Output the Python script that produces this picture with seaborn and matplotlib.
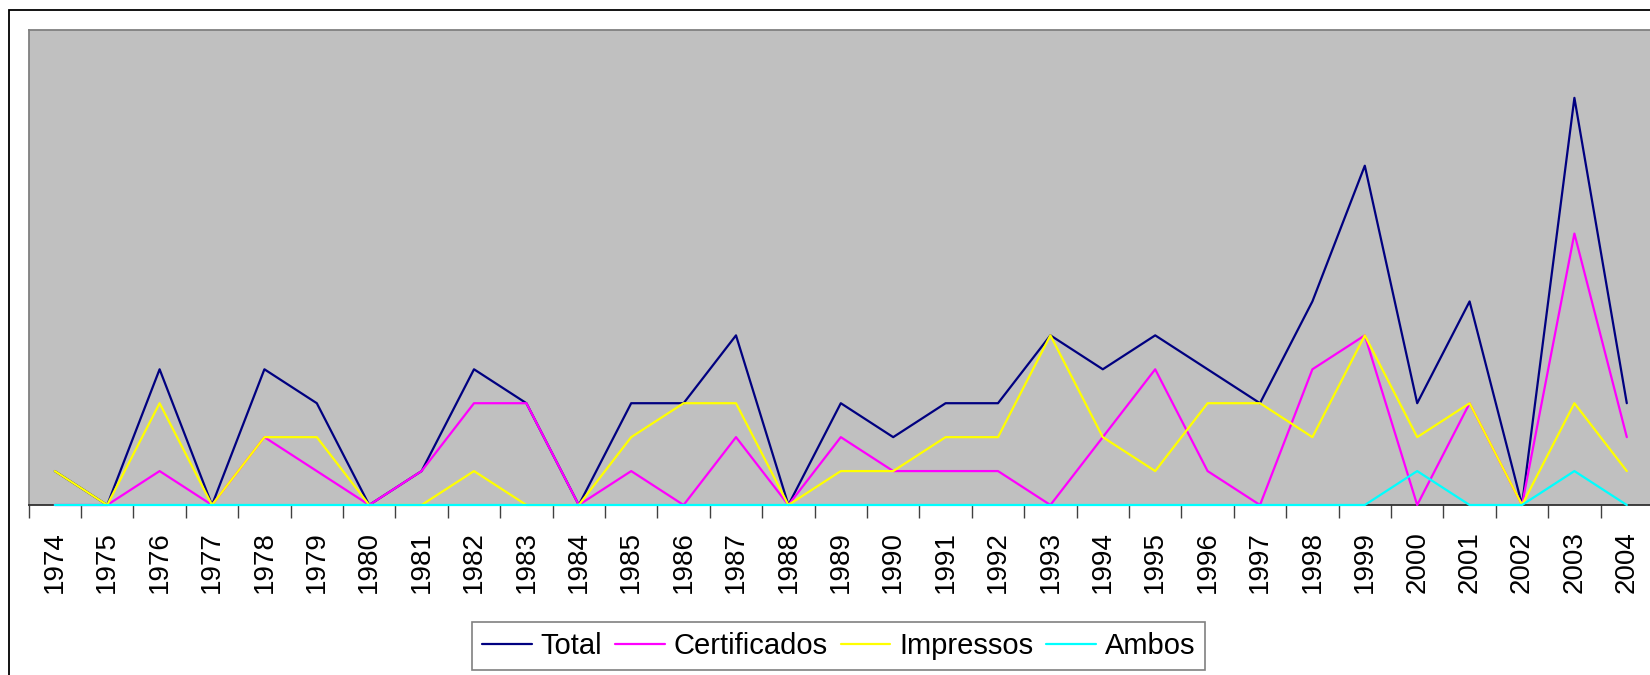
import matplotlib
matplotlib.use('Agg')
import matplotlib.pyplot as plt
import matplotlib.patches as mpatches
import numpy as np
import pandas as pd
import seaborn as sns

years = [str(y) for y in range(1974, 2005)]
total        = [1, 0, 4, 0, 4, 3, 0, 1, 4, 3, 0, 3, 3, 5, 0, 3, 2, 3, 3, 5, 4, 5, 4, 3, 6, 10, 3, 6, 0, 12, 3]
certificados = [0, 0, 1, 0, 2, 1, 0, 1, 3, 3, 0, 1, 0, 2, 0, 2, 1, 1, 1, 0, 2, 4, 1, 0, 4, 5, 0, 3, 0, 8, 2]
impressos    = [1, 0, 3, 0, 2, 2, 0, 0, 1, 0, 0, 2, 3, 3, 0, 1, 1, 2, 2, 5, 2, 1, 3, 3, 2, 5, 2, 3, 0, 3, 1]
ambos        = [0, 0, 0, 0, 0, 0, 0, 0, 0, 0, 0, 0, 0, 0, 0, 0, 0, 0, 0, 0, 0, 0, 0, 0, 0, 0, 1, 0, 0, 1, 0]

series_names = ['Total', 'Certificados', 'Impressos', 'Ambos']
colors = ['#000080', '#FF00FF', '#FFFF00', '#00FFFF']

idx = np.arange(len(years))
df = pd.concat([
    pd.DataFrame({'pos': idx, 'valor': vals, 'serie': name})
    for name, vals in zip(series_names, [total, certificados, impressos, ambos])
], ignore_index=True)

sns.set_style('white')
plt.rcParams['font.family'] = ['Liberation Sans', 'DejaVu Sans']
plt.rcParams['text.color'] = 'black'
plt.rcParams['xtick.color'] = 'black'

fig = plt.figure(figsize=(16.5, 6.75), dpi=100)
W, H = 1650, 675

# outer chart frame (cropped at right and bottom)
fig.patches.append(mpatches.Rectangle((8.6 / W, -0.1), 1.1, 1 - 10 / H + 0.1,
                                      transform=fig.transFigure, fill=False,
                                      edgecolor='black', linewidth=1.3))

ax = fig.add_axes([28.6 / W, 1 - 505 / H, (1653 - 28.6) / W, (505 - 30) / H])
ax.set_facecolor('#C0C0C0')

sns.lineplot(data=df, x='pos', y='valor', hue='serie', hue_order=series_names,
             palette=colors, linewidth=1.6, sort=False, legend=False, ax=ax)
for line in ax.lines:
    line.set_clip_on(False)
    line.set_zorder(3)

ax.set_xlim(-0.5, len(years) - 0.5)
ax.set_ylim(0, 14)
ax.set_xlabel('')
ax.set_ylabel('')
ax.set_yticks([])

ax.set_xticks(idx)
ax.set_xticklabels(years, rotation=90, fontsize=20, va='top', ha='center', color='black')
ax.set_xticks(np.arange(-0.5, len(years), 1), minor=True)
ax.tick_params(axis='x', which='major', length=0, pad=19)
ax.tick_params(axis='x', which='minor', length=9, width=1, color='#404040', direction='out', bottom=True)

for s in ['top', 'left', 'right']:
    ax.spines[s].set_color('#808080')
    ax.spines[s].set_linewidth(1.3)
ax.spines['bottom'].set_color('#303030')
ax.spines['bottom'].set_linewidth(1.3)

handles = [plt.Line2D([], [], color=c, linewidth=1.6) for c in colors]
leg = fig.legend(handles, series_names, loc='center', ncol=4,
                 bbox_to_anchor=(838.5 / W, 1 - 646 / H),
                 fontsize=21, frameon=True, fancybox=False,
                 handlelength=1.7, handletextpad=0.3, columnspacing=0.45,
                 borderpad=0.35, borderaxespad=0)
leg.get_frame().set_edgecolor('#606060')
leg.get_frame().set_linewidth(1.2)
for t in leg.get_texts():
    t.set_color('black')

plt.savefig('out.png', dpi=100)
plt.close(fig)
